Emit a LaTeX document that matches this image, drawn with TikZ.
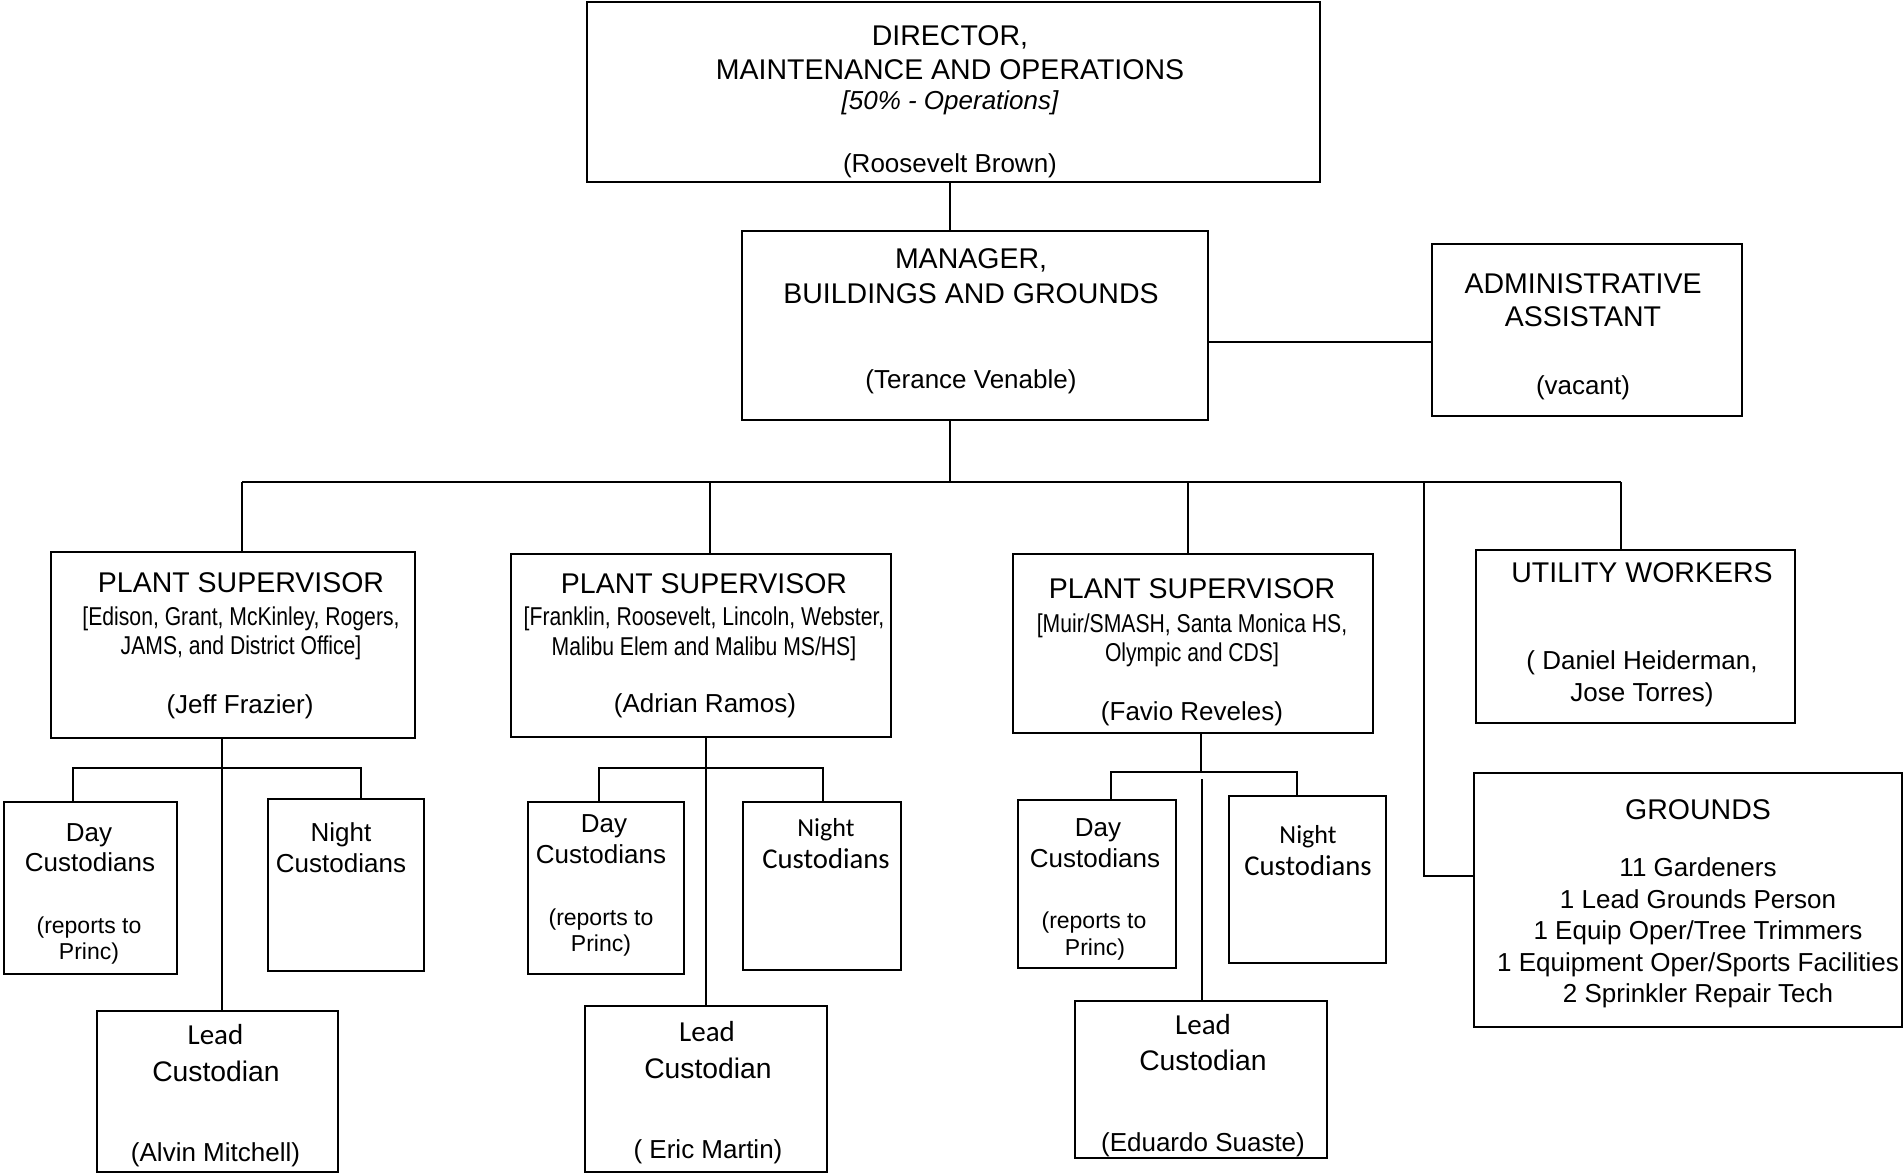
\documentclass[tikz,border=0pt]{standalone}
\usepackage{fontspec}
\setmainfont{Liberation Sans}
\newfontfamily\narrowfont[FakeStretch=0.82]{Liberation Sans}
\newfontfamily\calfont{Carlito}
\begin{document}
\begin{tikzpicture}[x=1pt,y=-1pt,
  box/.style={draw, line width=2.7pt, inner sep=0pt, outer sep=0pt},
  conn/.style={line width=2.7pt},
  txt/.style={inner sep=0pt, outer sep=0pt, text depth=0pt, anchor=center},
  tA/.style={txt, font=\fontsize{28.5}{34}\selectfont, text height=20.4pt},
  tB/.style={txt, font=\fontsize{26}{31}\selectfont, text height=18.6pt},
  tI/.style={txt, font=\fontsize{26}{31}\selectfont\itshape, text height=18.6pt},
  tS/.style={txt, font=\fontsize{23}{27}\selectfont, text height=16.5pt},
  tN/.style={txt, font=\narrowfont\fontsize{25.8}{30}\selectfont, text height=18.5pt},
  tCs/.style={txt, font=\calfont\fontsize{26}{31}\selectfont, text height=16.8pt},
  tCL/.style={txt, font=\calfont\fontsize{29}{34}\selectfont, text height=18.7pt},
  tCl/.style={txt, font=\calfont\fontsize{28.7}{33}\selectfont, text height=18.5pt},
  tL/.style={txt, font=\fontsize{28.3}{33}\selectfont, text height=20.3pt}
]
\useasboundingbox (0,0) rectangle (1904,1174);
\fill[white] (0,0) rectangle (1904,1174);

% ---------- boxes ----------
\node[box, minimum width=733pt, minimum height=180pt] (dir) at (953.5,92) {};
\node[box, minimum width=466pt, minimum height=189pt] (mgr) at (975,325.5) {};
\node[box, minimum width=310pt, minimum height=172pt] (adm) at (1587,330) {};
\node[box, minimum width=364pt, minimum height=186pt] (ps1) at (233,645) {};
\node[box, minimum width=380pt, minimum height=183pt] (ps2) at (701,645.5) {};
\node[box, minimum width=360pt, minimum height=179pt] (ps3) at (1193,643.5) {};
\node[box, minimum width=319pt, minimum height=173pt] (util) at (1635.5,636.5) {};
\node[box, minimum width=428pt, minimum height=254pt] (grd) at (1688,900) {};
\node[box, minimum width=173pt, minimum height=172pt] (day1) at (90.5,888) {};
\node[box, minimum width=156pt, minimum height=172pt] (night1) at (346,885) {};
\node[box, minimum width=241pt, minimum height=161pt] (lead1) at (217.5,1091.5) {};
\node[box, minimum width=156pt, minimum height=172pt] (day2) at (606,888) {};
\node[box, minimum width=158pt, minimum height=168pt] (night2) at (822,886) {};
\node[box, minimum width=242pt, minimum height=166pt] (lead2) at (706,1089) {};
\node[box, minimum width=158pt, minimum height=168pt] (day3) at (1097,884) {};
\node[box, minimum width=157pt, minimum height=167pt] (night3) at (1307.5,879.5) {};
\node[box, minimum width=252pt, minimum height=157pt] (lead3) at (1201,1079.5) {};

% ---------- texts ----------
\node[tA] (dirA) at (950,35) {DIRECTOR,};
\node[tA] (dirB) at (950,69) {MAINTENANCE AND OPERATIONS};
\node[tI] (dirC) at (950,100) {[50\% - Operations]};
\node[tB] (dirD) at (950,163) {(Roosevelt Brown)};

\node[tA] (mgrA) at (971,258) {MANAGER,};
\node[tA] (mgrB) at (971,293) {BUILDINGS AND GROUNDS};
\node[tB] (mgrC) at (971,379) {(Terance Venable)};

\node[tA] (admA) at (1583,283) {ADMINISTRATIVE};
\node[tA] (admB) at (1583,316) {ASSISTANT};
\node[tB] (admC) at (1583,385) {(vacant)};

\node[tA] (ps1A) at (241,582) {PLANT SUPERVISOR};
\node[tN] (ps1B) at (241,616) {[Edison, Grant, McKinley, Rogers,};
\node[tN] (ps1C) at (241,645) {JAMS, and District Office]};
\node[tB] (ps1D) at (240,704) {(Jeff Frazier)};

\node[tA] (ps2A) at (704,583) {PLANT SUPERVISOR};
\node[tN] (ps2B) at (704,616) {[Franklin, Roosevelt, Lincoln, Webster,};
\node[tN] (ps2C) at (704,646) {Malibu Elem and Malibu MS/HS]};
\node[tB] (ps2D) at (705,703) {(Adrian Ramos)};

\node[tA] (ps3A) at (1192,588) {PLANT SUPERVISOR};
\node[tN] (ps3B) at (1192,623) {[Muir/SMASH, Santa Monica HS,};
\node[tN] (ps3C) at (1192,652) {Olympic and CDS]};
\node[tB] (ps3D) at (1192,711) {(Favio Reveles)};

\node[tA] (utA) at (1642,572) {UTILITY WORKERS};
\node[tB] (utB) at (1642,660) {( Daniel Heiderman,};
\node[tB] (utC) at (1642,692) {Jose Torres)};

\node[tA] (grA) at (1698,809) {GROUNDS};
\node[tB] (grB) at (1698,867) {11 Gardeners};
\node[tB] (grC) at (1698,899) {1 Lead Grounds Person};
\node[tB] (grD) at (1698,930) {1 Equip Oper/Tree Trimmers};
\node[tB] (grE) at (1698,962) {1 Equipment Oper/Sports Facilities};
\node[tB] (grF) at (1698,993) {2 Sprinkler Repair Tech};

\node[tB] (d1A) at (89,832) {Day};
\node[tB] (d1B) at (90,862) {Custodians};
\node[tS] (d1C) at (89,925) {(reports to};
\node[tS] (d1D) at (89,951) {Princ)};
\node[tB] (n1A) at (341,832) {Night};
\node[tB] (n1B) at (341,863) {Custodians};
\node[tCL] (l1A) at (215.5,1035) {Lead};
\node[tL] (l1B) at (216,1071) {Custodian};
\node[tB] (l1C) at (215.5,1152) {(Alvin Mitchell)};

\node[tB] (d2A) at (604,823) {Day};
\node[tB] (d2B) at (601,854) {Custodians};
\node[tS] (d2C) at (601,917) {(reports to};
\node[tS] (d2D) at (601,943) {Princ)};
\node[tCs] (n2A) at (826,828) {Night};
\node[tCl] (n2B) at (826,859) {Custodians};
\node[tCL] (l2A) at (707,1032) {Lead};
\node[tL] (l2B) at (708,1068) {Custodian};
\node[tB] (l2C) at (708,1149) {( Eric Martin)};

\node[tB] (d3A) at (1098,827) {Day};
\node[tB] (d3B) at (1095,858) {Custodians};
\node[tS] (d3C) at (1094,920) {(reports to};
\node[tS] (d3D) at (1095,947) {Princ)};
\node[tCs] (n3A) at (1308,835) {Night};
\node[tCl] (n3B) at (1308,866) {Custodians};
\node[tCL] (l3A) at (1203,1025) {Lead};
\node[tL] (l3B) at (1203,1060) {Custodian};
\node[tB] (l3C) at (1203,1142) {(Eduardo Suaste)};

% ---------- connectors ----------
\coordinate (spine) at (950,482);
\coordinate (admY) at (0,342);
\coordinate (busL) at (242,482);
\coordinate (b2) at (710,482);
\coordinate (b3) at (1188,482);
\coordinate (b4) at (1424,482);
\coordinate (busR) at (1621,482);
\coordinate (gY) at (0,876);

\draw[conn] (spine |- dir.south) -- (spine |- mgr.north);
\draw[conn] (spine |- mgr.south) -- (spine);
\draw[conn] (mgr.east |- admY) -- (adm.west |- admY);
\draw[conn] (busL) -- (busR);
\draw[conn] (busL) -- (busL |- ps1.north);
\draw[conn] (b2) -- (b2 |- ps2.north);
\draw[conn] (b3) -- (b3 |- ps3.north);
\draw[conn] (busR) -- (busR |- util.north);
\draw[conn] (b4) -- (b4 |- gY) -- (grd.west |- gY);

\coordinate (s1) at (222,768);
\coordinate (s1L) at (73,768);
\coordinate (s1R) at (361,768);
\draw[conn] (s1 |- ps1.south) -- (s1 |- lead1.north);
\draw[conn] (s1L |- day1.north) -- (s1L) -- (s1R) -- (s1R |- night1.north);

\coordinate (s2) at (706,768);
\coordinate (s2L) at (599,768);
\coordinate (s2R) at (823,768);
\draw[conn] (s2 |- ps2.south) -- (s2 |- lead2.north);
\draw[conn] (s2L |- day2.north) -- (s2L) -- (s2R) -- (s2R |- night2.north);

\coordinate (s3) at (1201,772);
\coordinate (s3L) at (1111,772);
\coordinate (s3R) at (1297,772);
\coordinate (l3top) at (1202,779);
\draw[conn] (s3 |- ps3.south) -- (s3);
\draw[conn] (s3L |- day3.north) -- (s3L) -- (s3R) -- (s3R |- night3.north);
\draw[conn] (l3top) -- (l3top |- lead3.north);
\end{tikzpicture}
\end{document}
